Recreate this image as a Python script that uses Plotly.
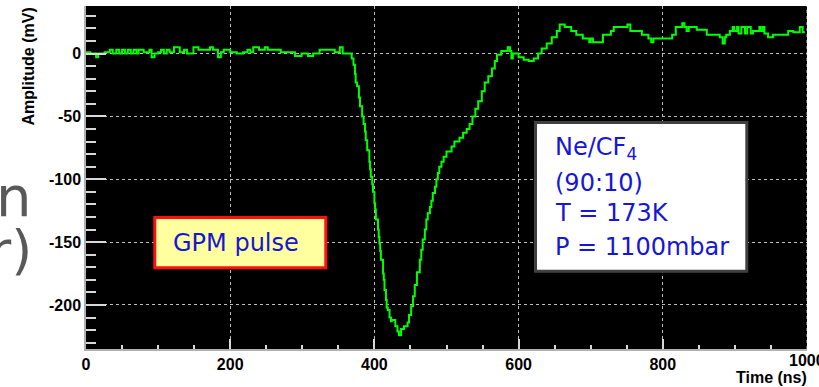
import plotly.graph_objects as go

# ---------------- data ----------------
time_ns = [0, 6, 14, 17, 26, 33, 37, 42, 46, 50, 54, 58, 62, 66, 70, 73, 80, 88, 91, 95,
           100, 104, 108, 112, 116, 122, 130, 136, 140, 149, 156, 172, 176, 183, 187, 191,
           200, 209, 218, 224, 228, 232, 240, 248, 252, 255, 270, 280, 290, 299, 308, 315,
           324, 345, 352, 356,
           368.5, 371, 373, 374, 376, 378.5, 380, 383, 385, 387, 388, 390, 393, 394, 395, 397,
           398, 400, 401, 402, 405, 406, 407, 408, 409, 412, 413, 414, 416, 417, 418.5, 421, 423,
           424, 429, 432, 434, 437, 441, 446, 448, 451, 453.6, 456, 459, 463, 465, 467,
           470, 472, 474, 477, 479, 481, 484, 486, 488, 490, 493, 496, 500, 507, 511, 518,
           523, 528, 532, 536, 540, 544, 549, 553, 558, 563, 567, 570, 576, 585, 588, 590,
           592, 600, 607, 614, 621, 627, 632, 639, 646, 653, 657, 664, 673, 680, 689, 698,
           700, 703, 717, 728, 732, 751, 755, 771, 780, 784, 787, 813, 818, 827, 830, 833,
           836, 847, 861, 879, 883, 886, 888, 893, 897, 899, 903, 905, 909, 914, 917, 922,
           925, 934, 936, 939, 941, 946, 953, 974, 981, 990, 994, 997, 1000]
amp_mv = [1, 0, -3, 0, 1, 3, 0, 3, 0, 3, 0, 3, 0, 3, 0, 3, 1, 3, -3, 0,
          1, 3, 0, 3, 1, 5, 1, 3, 0, 5, 3, 5, 3, -3, 1, 3,
          1, 0, 1, 3, 1, 5, 3, 5, 3, 3, 1, 1, -2, 0, -2, 0,
          3, 1, 5, 0,
          -4, -9, -16, -23, -26, -35, -42, -50, -56, -62, -69, -77, -86, -92, -98, -104,
          -110, -119, -124, -132, -140, -146, -151, -157, -164, -175, -180, -188, -196, -202, -204, -210, -213,
          -212, -217, -221, -224, -219, -217, -214, -208, -201, -193, -184, -174, -164, -156,
          -148, -140, -132, -127, -122, -117, -111, -106, -100, -95, -90, -86, -82, -78, -74, -70,
          -67, -63, -60, -56, -50, -44, -38, -30, -23, -18, -12, -6, -1, 2, 5, 2,
          -4, 0, -3, -5, -6, -4, 0, 4, 8, 13, 18, 23, 21, 18, 15, 12,
          9, 12, 9, 15, 18, 21, 23, 18, 15, 12, 9, 12, 15, 21, 24, 21,
          18, 21, 19, 15, 13, 8, 13, 15, 18, 21, 18, 21, 16, 21, 16, 21,
          16, 18, 21, 18, 21, 16, 13, 15, 18, 17, 21, 17, 17]

x_range = [0, 1000]
y_range = [-235, 37.8]
x_major = [0, 200, 400, 600, 800]
x_last_label = "1000"
y_major = [-200, -150, -100, -50, 0]

# ---------------- layout geometry (pixels) ----------------
W_PX, H_PX = 819, 387
L, R, T, B = 86, 12, 6, 38
PW, PH = W_PX - L - R, H_PX - T - B


def px(xp):
    return (xp - L) / PW


def py(yp):
    return (T + PH - yp) / PH


AX_FONT = dict(family="Liberation Sans, Arial", size=16, color="black", weight="bold")
BLUE = "#1616d6"
BOX_FONT = "DejaVu Sans, Verdana"

fig = go.Figure()
fig.add_trace(go.Scatter(
    x=time_ns, y=amp_mv, mode="lines",
    line=dict(color="#00ff00", width=2, shape="hv"),
    showlegend=False, hoverinfo="skip",
))

fig.update_layout(
    width=W_PX, height=H_PX,
    margin=dict(l=L, r=R, t=T, b=B, pad=0),
    paper_bgcolor="white", plot_bgcolor="black",
    showlegend=False,
)

fig.update_xaxes(
    range=x_range, tickvals=x_major + [1000], ticktext=[str(v) for v in x_major] + [""],
    ticks="inside", ticklen=10, tickwidth=1.5, tickcolor="#d8d8d8",
    minor=dict(dtick=50, tick0=0, ticks="inside", ticklen=4, tickwidth=1.5,
               tickcolor="#d8d8d8", showgrid=False),
    showgrid=True, gridcolor="#bdbdbd", griddash="dot", gridwidth=1,
    zeroline=False, showline=True, linecolor="#b0b0b0", linewidth=1.5,
    tickfont=AX_FONT, automargin=False,
)
fig.update_yaxes(
    range=y_range, tickvals=y_major, ticktext=[str(v) for v in y_major],
    ticks="inside", ticklen=20, tickwidth=1.5, tickcolor="#d8d8d8",
    minor=dict(dtick=10, tick0=0, ticks="inside", ticklen=10, tickwidth=1.5,
               tickcolor="#d8d8d8", showgrid=False),
    showgrid=True, gridcolor="#bdbdbd", griddash="dot", gridwidth=1,
    zeroline=False, showline=True, linecolor="#b0b0b0", linewidth=1.5,
    tickfont=AX_FONT, automargin=False,
)

# boxes
fig.add_shape(type="rect", xref="paper", yref="paper",
              x0=px(154.8), x1=px(325.8), y0=py(267.8), y1=py(217.5),
              line=dict(color="#ff1010", width=3), fillcolor="#ffff9f", layer="above")
fig.add_shape(type="rect", xref="paper", yref="paper",
              x0=px(535.5), x1=px(746.8), y0=py(271.2), y1=py(122.5),
              line=dict(color="#404040", width=3), fillcolor="white", layer="above")
# right frame edge drawn as dotted grid (ROOT style)
fig.add_shape(type="line", xref="x", yref="paper", x0=x_range[1], x1=x_range[1], y0=0, y1=1,
              line=dict(color="#bdbdbd", width=1, dash="dot"), layer="above")

annotations = [
    dict(text="GPM pulse", x=px(171), y=py(243), xanchor="left", yanchor="middle",
         font=dict(family=BOX_FONT, size=24, color=BLUE)),
    dict(text="Ne/CF<sub>4</sub>", x=px(553), y=py(148), xanchor="left", yanchor="middle",
         font=dict(family=BOX_FONT, size=24, color=BLUE)),
    dict(text="(90:10)", x=px(553), y=py(183), xanchor="left", yanchor="middle",
         font=dict(family=BOX_FONT, size=24, color=BLUE)),
    dict(text="T = 173K", x=px(553), y=py(213), xanchor="left", yanchor="middle",
         font=dict(family=BOX_FONT, size=24, color=BLUE)),
    dict(text="P = 1100mbar", x=px(553), y=py(246.5), xanchor="left", yanchor="middle",
         font=dict(family=BOX_FONT, size=24, color=BLUE)),
    # axis titles
    dict(text="Amplitude (mV)", x=px(27.5), y=py(66), xanchor="center", yanchor="middle",
         textangle=-90, font=AX_FONT),
    dict(text="Time (ns)", x=px(809), y=py(377), xanchor="right", yanchor="middle",
         font=AX_FONT),
    # last x tick label, cut by the right edge as in the reference
    dict(text=x_last_label, x=1.0, y=py(360), xanchor="center", yanchor="middle",
         font=AX_FONT),
    # fragments of slide text behind the chart
    dict(text="n", x=px(-6), y=py(197), xanchor="left", yanchor="middle",
         font=dict(family=BOX_FONT, size=56, color="#595959")),
    dict(text="r)", x=px(-13), y=py(250), xanchor="left", yanchor="middle",
         font=dict(family=BOX_FONT, size=54, color="#595959")),
]
for a in annotations:
    a.setdefault("xref", "paper")
    a.setdefault("yref", "paper")
    a.setdefault("showarrow", False)
    fig.add_annotation(**a)

fig.write_html("out.html")
